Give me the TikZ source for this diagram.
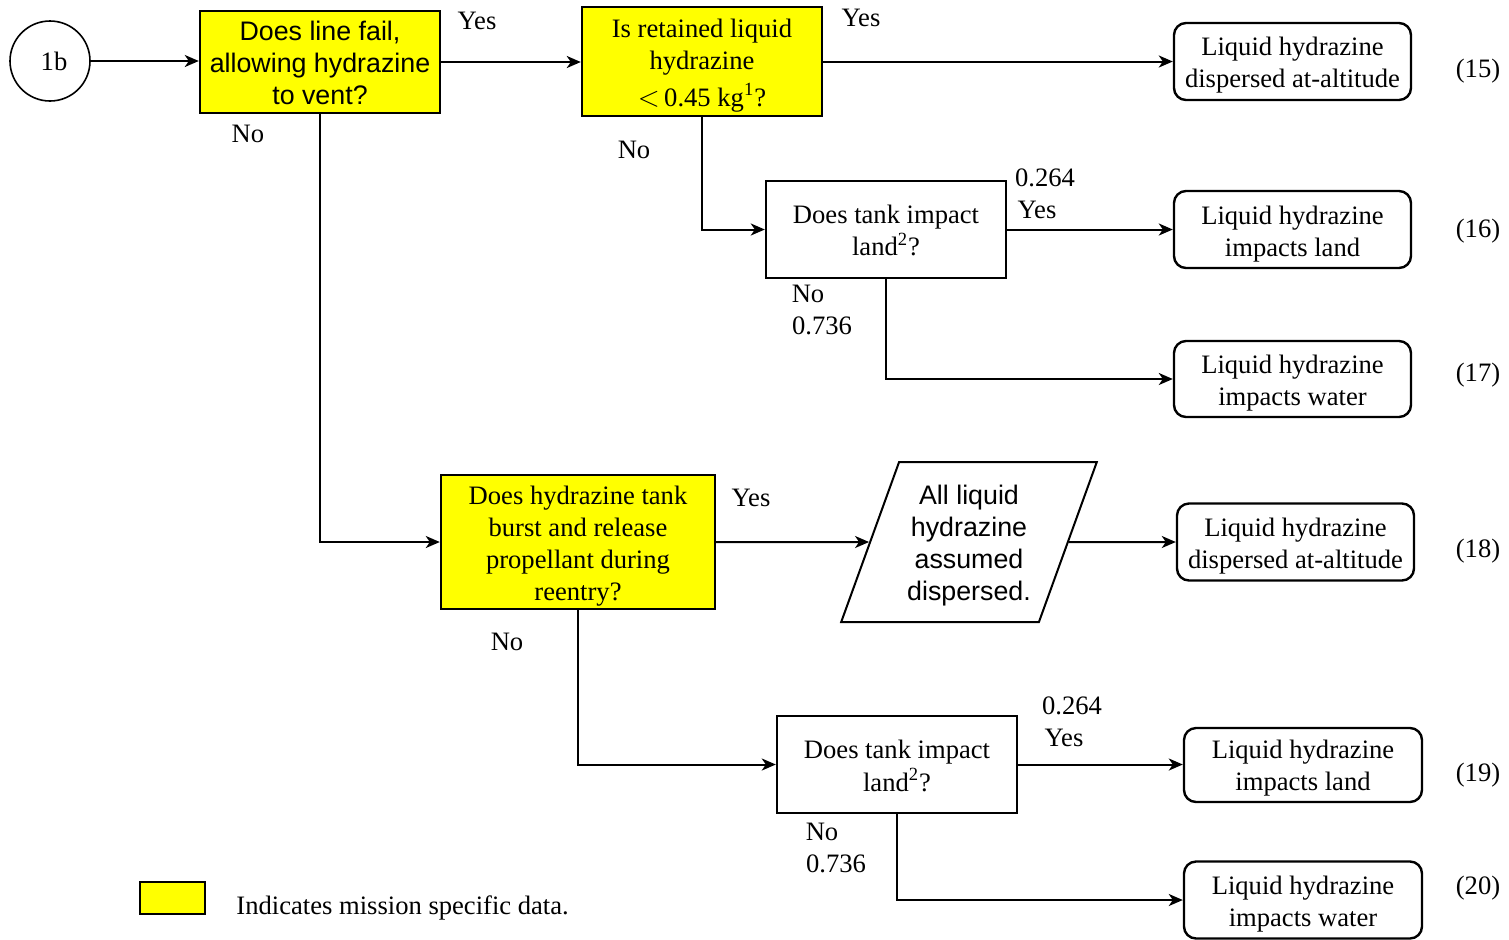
\documentclass[tikz,border=0pt]{standalone}
\usepackage{fontspec}
\setmainfont{Liberation Serif}
\setsansfont{Liberation Sans}
\usetikzlibrary{arrows.meta,shapes.geometric}
\definecolor{mission}{RGB}{255,255,0}
% centred block of lines, set a little lower than its nominal centre
\newcommand{\lowtext}[2]{\raisebox{-#1}[\height][\depth]{\begin{tabular}{@{}c@{}}#2\end{tabular}}}
\begin{document}
\begin{tikzpicture}[x=0.5pt,y=-0.5pt,
  every node/.style={font=\fontsize{13.3}{16}\selectfont, inner sep=0pt},
  decision/.style={draw, line width=1.2pt, minimum width=120pt, minimum height=48.5pt, align=center},
  missionbox/.style={decision, fill=mission, font=\sffamily\fontsize{13.4}{16}\selectfont},
  missionserif/.style={decision, fill=mission},
  outcome/.style={draw, line width=1.2pt, rounded corners=6pt, minimum width=118.5pt, minimum height=38.5pt, align=center},
  flow/.style={line width=1pt, -{Stealth[length=7pt,width=6pt,inset=2pt]}},
  lbl/.style={}
]
\useasboundingbox (0,0) rectangle (1509,939);

% start connector
\node[draw, circle, line width=0.8pt, minimum size=40pt] (c1b) at (50,61) {\hspace{4pt}1b};

% first row
\node[missionbox, minimum height=51pt] (A) at (320,62) {\lowtext{2pt}{Does line fail,\\allowing hydrazine\\to vent?}};
\node[missionserif, minimum height=54.5pt] (B) at (702,61.5) {\lowtext{2pt}{Is retained liquid\\hydrazine\\[2pt]$<$\,0.45 kg\textsuperscript{1}?}};
\node[outcome] (R15) at (1292.5,61.5) {\lowtext{2pt}{Liquid hydrazine\\dispersed at-altitude}};

% tank impact branch after retention check
\node[decision] (C) at (886,229.5) {\lowtext{1.75pt}{Does tank impact\\land\textsuperscript{2}?}};
\node[outcome] (R16) at (1292.5,229.5) {\lowtext{2.5pt}{Liquid hydrazine\\impacts land}};
\node[outcome, minimum height=38pt] (R17) at (1292.5,379) {\lowtext{2pt}{Liquid hydrazine\\impacts water}};

% tank burst branch
\node[missionserif, minimum width=137pt, minimum height=67pt] (D) at (578,542) {\lowtext{2pt}{Does hydrazine tank\\burst and release\\propellant during\\reentry?}};
\node[draw, line width=1pt, trapezium, trapezium left angle=68.2, trapezium right angle=111.8,
      trapezium stretches=true, minimum width=128pt, minimum height=80pt,
      font=\sffamily\fontsize{13.4}{16}\selectfont, align=center] (P) at (969,542)
      {\lowtext{2pt}{All liquid\\hydrazine\\assumed\\dispersed.}};
\node[outcome] (R18) at (1295.5,542) {\lowtext{2pt}{Liquid hydrazine\\dispersed at-altitude}};

\node[decision] (E) at (897,764.5) {\lowtext{2pt}{Does tank impact\\land\textsuperscript{2}?}};
\node[outcome, minimum width=119pt, minimum height=37pt] (R19) at (1303,765) {\lowtext{1.5pt}{Liquid hydrazine\\impacts land}};
\node[outcome, minimum width=119pt] (R20) at (1303,900) {\lowtext{2.25pt}{Liquid hydrazine\\impacts water}};

% connectors
\draw[flow] (c1b.east) -- (c1b.east -| A.west);
\draw[flow] (A.east) -- (A.east -| B.west);
\draw[flow] (B.east) -- (B.east -| R15.west);
\draw[flow] (B.south) |- (C.west);
\draw[flow] (C.east) -- (C.east -| R16.west);
\draw[flow] (C.south) |- (R17.west);
\draw[flow] (A.south) |- (D.west);
\draw[flow] (D.east) -- (P);
\draw[flow] (P) -- (R18.west);
\draw[flow] (D.south) |- (E.west);
\draw[flow] (E.east) -- (E.east -| R19.west);
\draw[flow] (E.south) |- (R20.west);

% branch labels
\node[lbl] (yA) at (477,21) {Yes};
\node[lbl] (nA) at (248,134) {No};
\node[lbl] (yB) at (861,18) {Yes};
\node[lbl] (nB) at (634,150) {No};
\node[lbl] (pC) at (1045,178) {0.264};
\node[lbl] (yC) at (1037,210) {Yes};
\node[lbl] (nC) at (808,294) {No};
\node[lbl] (qC) at (822,326) {0.736};
\node[lbl] (yD) at (751,498) {Yes};
\node[lbl] (nD) at (507,642) {No};
\node[lbl] (pE) at (1072,706) {0.264};
\node[lbl] (yE) at (1064,738) {Yes};
\node[lbl] (nE) at (822,832) {No};
\node[lbl] (qE) at (836,864) {0.736};

% outcome numbers
\node (n15) at (1478,71) {(15)};
\node (n16) at (1478,231.5) {(16)};
\node (n17) at (1478,375.5) {(17)};
\node (n18) at (1478,551.5) {(18)};
\node (n19) at (1478,775.5) {(19)};
\node (n20) at (1478,888.5) {(20)};

% legend
\node[draw, line width=1pt, fill=mission, minimum width=32.5pt, minimum height=16pt] (key) at (172.5,898) {};
\node[anchor=west] (keytext) at (236,907.5) {Indicates mission specific data.};
\end{tikzpicture}
\end{document}
